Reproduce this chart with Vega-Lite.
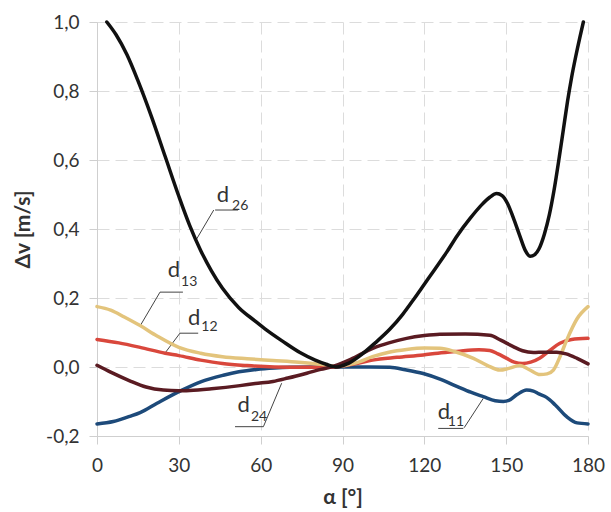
{
  "$schema": "https://vega.github.io/schema/vega-lite/v6.json",
  "width": 491,
  "height": 414,
  "autosize": "none",
  "padding": {"left": 97, "top": 22, "right": 23, "bottom": 76},
  "background": "white",
  "config": {
    "view": {"stroke": null},
    "font": "Lato",
    "axis": {
      "grid": true,
      "gridColor": "#dcdcdc",
      "gridDash": [12, 6],
      "gridWidth": 1,
      "domainColor": "#cfcfcf",
      "tickColor": "#cfcfcf",
      "tickSize": 8,
      "labelFont": "Lato",
      "labelFontSize": 19,
      "labelColor": "#333333",
      "titleFont": "Lato",
      "titleFontSize": 21,
      "titleFontWeight": "bold",
      "titleColor": "#333333"
    }
  },
  "datasets": {
    "curves": [
      {"s": "d11", "a": 0, "v": -0.165}, {"s": "d11", "a": 6, "v": -0.158}, {"s": "d11", "a": 12, "v": -0.143}, {"s": "d11", "a": 15.8, "v": -0.132}, {"s": "d11", "a": 22, "v": -0.105}, {"s": "d11", "a": 30.4, "v": -0.07}, {"s": "d11", "a": 38, "v": -0.043}, {"s": "d11", "a": 46.3, "v": -0.024}, {"s": "d11", "a": 52, "v": -0.014}, {"s": "d11", "a": 58.5, "v": -0.007}, {"s": "d11", "a": 65, "v": -0.003}, {"s": "d11", "a": 70.7, "v": -0.001}, {"s": "d11", "a": 80, "v": 0}, {"s": "d11", "a": 90, "v": 0}, {"s": "d11", "a": 100, "v": 0}, {"s": "d11", "a": 107.4, "v": -0.001}, {"s": "d11", "a": 113, "v": -0.008}, {"s": "d11", "a": 119.6, "v": -0.019}, {"s": "d11", "a": 126, "v": -0.036}, {"s": "d11", "a": 131.9, "v": -0.056}, {"s": "d11", "a": 137, "v": -0.073}, {"s": "d11", "a": 141.6, "v": -0.086}, {"s": "d11", "a": 146, "v": -0.098}, {"s": "d11", "a": 149, "v": -0.1}, {"s": "d11", "a": 151, "v": -0.097}, {"s": "d11", "a": 154, "v": -0.08}, {"s": "d11", "a": 157.5, "v": -0.067}, {"s": "d11", "a": 160, "v": -0.07}, {"s": "d11", "a": 162, "v": -0.078}, {"s": "d11", "a": 164.8, "v": -0.088}, {"s": "d11", "a": 168, "v": -0.11}, {"s": "d11", "a": 172.2, "v": -0.144}, {"s": "d11", "a": 176, "v": -0.162}, {"s": "d11", "a": 180, "v": -0.165},

      {"s": "d12", "a": 0, "v": 0.08}, {"s": "d12", "a": 8, "v": 0.07}, {"s": "d12", "a": 15.8, "v": 0.057}, {"s": "d12", "a": 25, "v": 0.04}, {"s": "d12", "a": 30, "v": 0.033}, {"s": "d12", "a": 38, "v": 0.02}, {"s": "d12", "a": 46, "v": 0.01}, {"s": "d12", "a": 55, "v": 0.004}, {"s": "d12", "a": 65, "v": 0.0}, {"s": "d12", "a": 75, "v": -0.001}, {"s": "d12", "a": 87, "v": 0.0}, {"s": "d12", "a": 95, "v": 0.01}, {"s": "d12", "a": 101, "v": 0.02}, {"s": "d12", "a": 110, "v": 0.028}, {"s": "d12", "a": 119.6, "v": 0.035}, {"s": "d12", "a": 125, "v": 0.04}, {"s": "d12", "a": 131.9, "v": 0.045}, {"s": "d12", "a": 140, "v": 0.05}, {"s": "d12", "a": 144, "v": 0.048}, {"s": "d12", "a": 147, "v": 0.038}, {"s": "d12", "a": 150.2, "v": 0.025}, {"s": "d12", "a": 153, "v": 0.014}, {"s": "d12", "a": 156, "v": 0.01}, {"s": "d12", "a": 159, "v": 0.014}, {"s": "d12", "a": 162.4, "v": 0.026}, {"s": "d12", "a": 166, "v": 0.048}, {"s": "d12", "a": 169.7, "v": 0.069}, {"s": "d12", "a": 174, "v": 0.08}, {"s": "d12", "a": 180, "v": 0.083},

      {"s": "d13", "a": 0, "v": 0.175}, {"s": "d13", "a": 5, "v": 0.165}, {"s": "d13", "a": 10, "v": 0.145}, {"s": "d13", "a": 15.8, "v": 0.12}, {"s": "d13", "a": 22, "v": 0.09}, {"s": "d13", "a": 30, "v": 0.057}, {"s": "d13", "a": 38, "v": 0.04}, {"s": "d13", "a": 46, "v": 0.03}, {"s": "d13", "a": 55, "v": 0.024}, {"s": "d13", "a": 64.5, "v": 0.019}, {"s": "d13", "a": 74, "v": 0.014}, {"s": "d13", "a": 82, "v": 0.008}, {"s": "d13", "a": 87, "v": 0.002}, {"s": "d13", "a": 95, "v": 0.012}, {"s": "d13", "a": 101, "v": 0.03}, {"s": "d13", "a": 107, "v": 0.043}, {"s": "d13", "a": 113.5, "v": 0.051}, {"s": "d13", "a": 120, "v": 0.055}, {"s": "d13", "a": 125.7, "v": 0.054}, {"s": "d13", "a": 131, "v": 0.045}, {"s": "d13", "a": 138, "v": 0.025}, {"s": "d13", "a": 143, "v": 0.005}, {"s": "d13", "a": 147.7, "v": -0.009}, {"s": "d13", "a": 151, "v": -0.004}, {"s": "d13", "a": 155, "v": 0.004}, {"s": "d13", "a": 158.5, "v": -0.008}, {"s": "d13", "a": 162.4, "v": -0.022}, {"s": "d13", "a": 165, "v": -0.02}, {"s": "d13", "a": 167.3, "v": -0.009}, {"s": "d13", "a": 170, "v": 0.035}, {"s": "d13", "a": 172.2, "v": 0.078}, {"s": "d13", "a": 176, "v": 0.14}, {"s": "d13", "a": 180, "v": 0.175},

      {"s": "d24", "a": 0, "v": 0.005}, {"s": "d24", "a": 5, "v": -0.015}, {"s": "d24", "a": 12, "v": -0.04}, {"s": "d24", "a": 18, "v": -0.058}, {"s": "d24", "a": 24.3, "v": -0.067}, {"s": "d24", "a": 30, "v": -0.069}, {"s": "d24", "a": 34, "v": -0.068}, {"s": "d24", "a": 42, "v": -0.063}, {"s": "d24", "a": 52.4, "v": -0.054}, {"s": "d24", "a": 58, "v": -0.048}, {"s": "d24", "a": 64.5, "v": -0.042}, {"s": "d24", "a": 70, "v": -0.032}, {"s": "d24", "a": 76.9, "v": -0.018}, {"s": "d24", "a": 82, "v": -0.007}, {"s": "d24", "a": 87, "v": 0.003}, {"s": "d24", "a": 93, "v": 0.022}, {"s": "d24", "a": 101.3, "v": 0.055}, {"s": "d24", "a": 107, "v": 0.07}, {"s": "d24", "a": 113.5, "v": 0.083}, {"s": "d24", "a": 120, "v": 0.091}, {"s": "d24", "a": 125.7, "v": 0.095}, {"s": "d24", "a": 135, "v": 0.096}, {"s": "d24", "a": 144, "v": 0.092}, {"s": "d24", "a": 148, "v": 0.078}, {"s": "d24", "a": 152.6, "v": 0.059}, {"s": "d24", "a": 156, "v": 0.047}, {"s": "d24", "a": 160, "v": 0.042}, {"s": "d24", "a": 164, "v": 0.043}, {"s": "d24", "a": 168.5, "v": 0.043}, {"s": "d24", "a": 172, "v": 0.038}, {"s": "d24", "a": 176, "v": 0.025}, {"s": "d24", "a": 180, "v": 0.009},

      {"s": "d26", "a": 3.6, "v": 1.0}, {"s": "d26", "a": 7, "v": 0.963}, {"s": "d26", "a": 11, "v": 0.905}, {"s": "d26", "a": 15, "v": 0.83}, {"s": "d26", "a": 20, "v": 0.725}, {"s": "d26", "a": 25, "v": 0.61}, {"s": "d26", "a": 30, "v": 0.495}, {"s": "d26", "a": 34, "v": 0.41}, {"s": "d26", "a": 38, "v": 0.338}, {"s": "d26", "a": 42, "v": 0.278}, {"s": "d26", "a": 46, "v": 0.228}, {"s": "d26", "a": 52, "v": 0.172}, {"s": "d26", "a": 58, "v": 0.133}, {"s": "d26", "a": 62.2, "v": 0.107}, {"s": "d26", "a": 68, "v": 0.075}, {"s": "d26", "a": 74.4, "v": 0.042}, {"s": "d26", "a": 80, "v": 0.02}, {"s": "d26", "a": 84, "v": 0.008}, {"s": "d26", "a": 88, "v": 0.0}, {"s": "d26", "a": 92, "v": 0.01}, {"s": "d26", "a": 97.6, "v": 0.04}, {"s": "d26", "a": 102, "v": 0.07}, {"s": "d26", "a": 107.4, "v": 0.11}, {"s": "d26", "a": 112, "v": 0.152}, {"s": "d26", "a": 116, "v": 0.195}, {"s": "d26", "a": 120, "v": 0.24}, {"s": "d26", "a": 124, "v": 0.285}, {"s": "d26", "a": 128.2, "v": 0.333}, {"s": "d26", "a": 132, "v": 0.38}, {"s": "d26", "a": 136.7, "v": 0.43}, {"s": "d26", "a": 141, "v": 0.47}, {"s": "d26", "a": 144, "v": 0.492}, {"s": "d26", "a": 146.5, "v": 0.503}, {"s": "d26", "a": 148.5, "v": 0.497}, {"s": "d26", "a": 150.5, "v": 0.474}, {"s": "d26", "a": 152.5, "v": 0.435}, {"s": "d26", "a": 155, "v": 0.38}, {"s": "d26", "a": 157, "v": 0.338}, {"s": "d26", "a": 158.8, "v": 0.321}, {"s": "d26", "a": 160.5, "v": 0.326}, {"s": "d26", "a": 162, "v": 0.342}, {"s": "d26", "a": 164, "v": 0.385}, {"s": "d26", "a": 165.8, "v": 0.44}, {"s": "d26", "a": 167.5, "v": 0.51}, {"s": "d26", "a": 169.5, "v": 0.61}, {"s": "d26", "a": 171, "v": 0.69}, {"s": "d26", "a": 172.5, "v": 0.77}, {"s": "d26", "a": 174, "v": 0.84}, {"s": "d26", "a": 175.5, "v": 0.9}, {"s": "d26", "a": 177, "v": 0.955}, {"s": "d26", "a": 178.3, "v": 1.0}
    ],
    "labels": [
      {"t": "d", "sub": "26", "a": 46.2, "v": 0.499, "sa": 52.5, "sv": 0.468},
      {"t": "d", "sub": "13", "a": 28.2, "v": 0.281, "sa": 33.8, "sv": 0.246},
      {"t": "d", "sub": "12", "a": 35.6, "v": 0.141, "sa": 41.2, "sv": 0.115},
      {"t": "d", "sub": "24", "a": 53.8, "v": -0.11, "sa": 59.4, "sv": -0.144},
      {"t": "d", "sub": "11", "a": 127.2, "v": -0.13, "sa": 131.6, "sv": -0.159}
    ],
    "leaders": [
      {"a": 43.3, "v": 0.455, "a2": 51.7, "v2": 0.455},
      {"a": 42.8, "v": 0.455, "a2": 36.3, "v2": 0.368},
      {"a": 23.1, "v": 0.217, "a2": 31.5, "v2": 0.217},
      {"a": 23.1, "v": 0.217, "a2": 15.8, "v2": 0.119},
      {"a": 30.4, "v": 0.098, "a2": 37.1, "v2": 0.098},
      {"a": 30.4, "v": 0.098, "a2": 24.9, "v2": 0.04},
      {"a": 50.6, "v": -0.173, "a2": 61, "v2": -0.173},
      {"a": 61, "v": -0.173, "a2": 67.7, "v2": -0.047},
      {"a": 125.1, "v": -0.178, "a2": 134.3, "v2": -0.178},
      {"a": 134.6, "v": -0.176, "a2": 141.6, "v2": -0.091}
    ]
  },
  "layer": [
    {
      "data": {"name": "leaders"},
      "mark": {"type": "rule", "color": "#444444", "strokeWidth": 1},
      "encoding": {
        "x": {"field": "a", "type": "quantitative", "scale": {"domain": [0, 180], "nice": false}, "axis": {"values": [0, 30, 60, 90, 120, 150, 180], "title": "α [°]", "labelPadding": 12, "titlePadding": 11, "labelFlush": false}},
        "y": {"field": "v", "type": "quantitative", "scale": {"domain": [-0.2, 1.0], "nice": false}, "axis": {"values": [-0.2, 0, 0.2, 0.4, 0.6, 0.8, 1.0], "labelExpr": "replace(replace(format(datum.value, '.1f'), '.', ','), '\u2212', '-')", "title": "Δv [m/s]", "labelPadding": 10, "titlePadding": 12, "labelFlush": false}},
        "x2": {"field": "a2"},
        "y2": {"field": "v2"}
      }
    },
    {
      "data": {"name": "curves"},
      "mark": {"type": "line", "interpolate": "monotone", "strokeCap": "round"},
      "encoding": {
        "x": {"field": "a", "type": "quantitative"},
        "y": {"field": "v", "type": "quantitative"},
        "color": {"field": "s", "type": "nominal", "legend": null, "scale": {"domain": ["d11", "d12", "d13", "d24", "d26"], "range": ["#1d4a7a", "#d9473c", "#e3c47c", "#5a1b22", "#111111"]}},
        "strokeWidth": {"field": "s", "type": "nominal", "legend": null, "scale": {"domain": ["d11", "d12", "d13", "d24", "d26"], "range": [3.5, 3.5, 4, 3.5, 5]}}
      }
    },
    {
      "data": {"name": "labels"},
      "mark": {"type": "text", "fontSize": 22, "font": "Lato", "color": "#333333", "align": "center", "baseline": "middle"},
      "encoding": {
        "x": {"field": "a", "type": "quantitative"},
        "y": {"field": "v", "type": "quantitative"},
        "text": {"field": "t"}
      }
    },
    {
      "data": {"name": "labels"},
      "mark": {"type": "text", "fontSize": 14, "font": "Lato", "color": "#333333", "align": "center", "baseline": "middle"},
      "encoding": {
        "x": {"field": "sa", "type": "quantitative"},
        "y": {"field": "sv", "type": "quantitative"},
        "text": {"field": "sub"}
      }
    }
  ]
}
